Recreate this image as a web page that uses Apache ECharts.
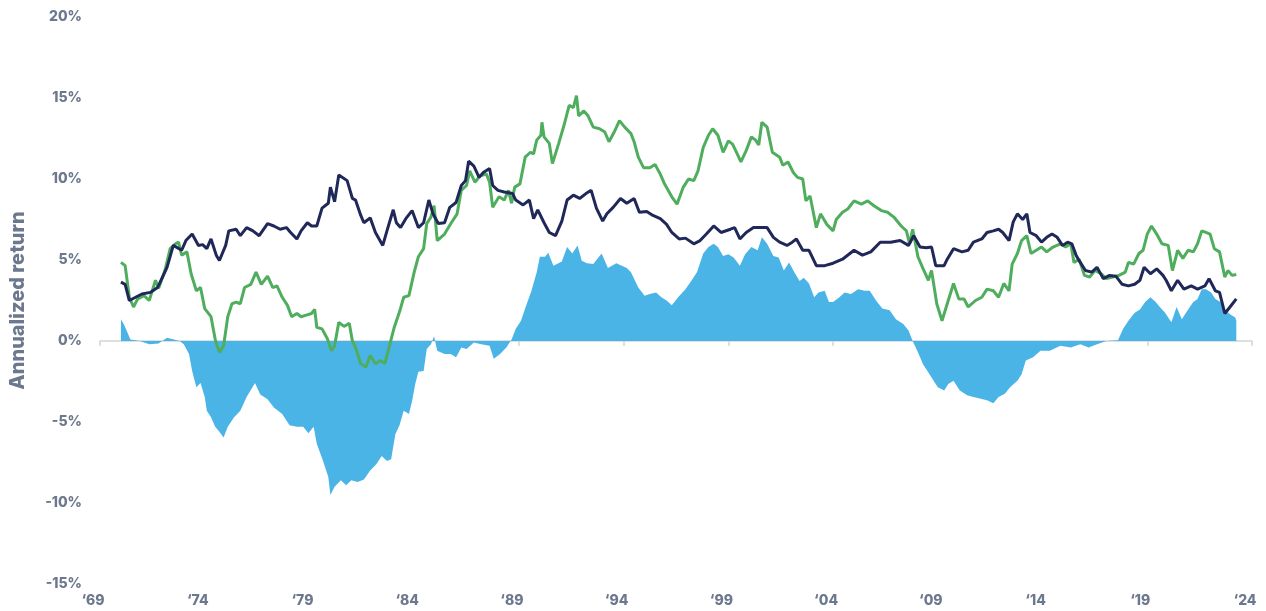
<!DOCTYPE html>
<html><head><meta charset="utf-8">
<script src="https://cdn.jsdelivr.net/npm/echarts@6/dist/echarts.min.js"></script>
<style>html,body{margin:0;padding:0;background:#fff}#c{width:1266px;height:611px}</style>
</head><body><div id="c"></div><script>
const BASE_YEAR = 1969;
const xTickLabels = ['‘69','‘74','‘79','‘84','‘89','‘94','‘99','‘04','‘09','‘14','‘19','‘24'];
const yTickLabels = ['-15%','-10%','-5%','0%','5%','10%','15%','20%'];

const navyYears = [1970.0,1970.2,1970.4,1970.7,1971.0,1971.4,1971.75,1972.2,1972.5,1972.9,1973.1,1973.4,1973.7,1973.9,1974.1,1974.3,1974.55,1974.7,1975.0,1975.15,1975.5,1975.7,1976.0,1976.3,1976.6,1977.0,1977.3,1977.6,1977.9,1978.1,1978.4,1978.6,1978.9,1979.1,1979.35,1979.6,1979.9,1980.0,1980.2,1980.4,1980.8,1981.05,1981.2,1981.45,1981.6,1981.9,1982.15,1982.5,1982.7,1983.0,1983.15,1983.35,1983.6,1983.9,1984.2,1984.45,1984.7,1984.9,1985.15,1985.45,1985.7,1986.0,1986.25,1986.45,1986.6,1986.85,1987.1,1987.3,1987.6,1987.75,1988.0,1988.3,1988.7,1988.85,1989.2,1989.5,1989.7,1989.9,1990.2,1990.45,1990.75,1991.05,1991.3,1991.6,1991.9,1992.2,1992.45,1992.7,1993.0,1993.2,1993.5,1993.85,1994.15,1994.5,1994.75,1995.1,1995.4,1995.75,1996.05,1996.3,1996.65,1996.95,1997.35,1997.65,1997.95,1998.3,1998.65,1999.1,1999.3,1999.55,1999.85,2000.2,2000.5,2000.85,2001.15,2001.45,2001.8,2002.05,2002.25,2002.55,2002.85,2003.2,2003.6,2004.0,2004.45,2005.0,2005.4,2005.8,2006.25,2006.75,2007.2,2007.6,2007.85,2008.15,2008.45,2008.7,2008.9,2009.3,2009.45,2009.75,2010.15,2010.45,2010.7,2011.1,2011.35,2011.65,2011.9,2012.1,2012.4,2012.6,2012.8,2013.05,2013.25,2013.4,2013.7,2013.95,2014.2,2014.45,2014.7,2014.95,2015.2,2015.4,2015.6,2015.8,2016.05,2016.35,2016.6,2016.9,2017.2,2017.5,2017.8,2018.1,2018.4,2018.65,2018.85,2019.15,2019.45,2019.75,2019.9,2020.15,2020.45,2020.75,2021.1,2021.4,2021.75,2021.95,2022.25,2022.45,2022.7,2022.95,2023.25];
const navyValues = [3.63,3.5,2.5,2.7,2.9,3.0,3.3,4.55,5.9,5.6,6.2,6.6,5.9,5.95,5.7,6.3,5.3,4.97,5.9,6.8,6.9,6.5,7.0,6.8,6.5,7.25,7.1,6.9,7.0,6.7,6.3,6.8,7.3,7.1,7.1,8.2,8.5,9.5,8.6,10.25,9.9,8.8,8.7,7.75,7.3,7.6,6.7,5.9,6.8,8.1,7.3,7.0,7.55,8.05,7.0,7.3,8.7,7.85,7.25,7.3,8.25,8.55,9.6,9.9,11.1,10.8,10.1,10.4,10.65,9.6,9.3,9.2,9.1,8.7,8.4,8.7,7.55,8.1,7.3,6.7,6.5,7.4,8.7,9.0,8.8,9.1,9.3,8.2,7.4,7.85,8.25,8.8,8.5,8.8,7.95,8.0,7.75,7.55,7.2,6.7,6.3,6.35,6.0,6.2,6.6,7.1,6.7,6.9,7.0,6.3,6.7,7.0,7.0,7.0,6.4,6.1,5.9,6.1,6.3,5.6,5.6,4.65,4.65,4.8,5.05,5.6,5.3,5.5,6.1,6.1,6.2,5.9,6.5,5.8,5.75,5.8,4.65,4.65,5.05,5.7,5.5,5.6,6.1,6.3,6.7,6.8,6.9,6.7,6.2,7.35,7.85,7.5,7.85,6.7,6.5,6.1,6.4,6.6,6.4,5.9,6.1,6.0,5.3,4.85,4.35,4.25,4.55,3.85,4.05,4.0,3.5,3.4,3.5,3.75,4.55,4.15,4.45,4.05,3.75,3.1,3.75,3.2,3.4,3.2,3.4,3.85,3.1,3.0,1.7,2.1,2.6];

const greenYears = [1970.0,1970.2,1970.4,1970.6,1970.8,1971.1,1971.35,1971.65,1971.8,1972.1,1972.35,1972.6,1972.75,1972.9,1973.15,1973.35,1973.6,1973.8,1974.0,1974.3,1974.5,1974.7,1974.9,1975.1,1975.3,1975.5,1975.7,1975.9,1976.2,1976.45,1976.7,1977.0,1977.25,1977.45,1977.7,1977.95,1978.15,1978.4,1978.6,1978.85,1979.1,1979.25,1979.35,1979.6,1979.85,1980.05,1980.2,1980.4,1980.65,1980.9,1981.05,1981.2,1981.45,1981.7,1981.9,1982.15,1982.4,1982.6,1982.8,1983.05,1983.3,1983.5,1983.75,1984.0,1984.2,1984.45,1984.6,1984.8,1984.95,1985.1,1985.45,1985.75,1986.05,1986.25,1986.5,1986.65,1986.9,1987.15,1987.45,1987.6,1987.75,1988.05,1988.3,1988.5,1988.65,1988.8,1989.05,1989.3,1989.55,1989.7,1989.85,1990.05,1990.1,1990.2,1990.45,1990.6,1990.9,1991.15,1991.4,1991.6,1991.75,1991.85,1992.1,1992.3,1992.55,1992.85,1993.1,1993.3,1993.55,1993.8,1994.05,1994.35,1994.5,1994.7,1994.95,1995.25,1995.5,1995.75,1995.95,1996.3,1996.55,1996.85,1997.1,1997.35,1997.55,1997.8,1998.05,1998.25,1998.5,1998.75,1999.0,1999.2,1999.35,1999.6,1999.85,2000.1,2000.3,2000.45,2000.6,2000.85,2001.1,2001.45,2001.6,2001.85,2002.1,2002.3,2002.55,2002.7,2002.9,2003.2,2003.4,2003.7,2004.0,2004.15,2004.45,2004.7,2005.0,2005.35,2005.65,2005.95,2006.3,2006.6,2006.9,2007.25,2007.5,2007.65,2007.8,2008.05,2008.3,2008.55,2008.7,2008.95,2009.2,2009.45,2009.75,2010.0,2010.25,2010.45,2010.8,2011.1,2011.35,2011.65,2011.9,2012.15,2012.4,2012.55,2012.8,2013.0,2013.25,2013.45,2013.7,2013.95,2014.2,2014.5,2014.85,2015.1,2015.35,2015.5,2015.75,2016.0,2016.25,2016.5,2016.8,2017.05,2017.35,2017.65,2017.95,2018.1,2018.35,2018.6,2018.8,2019.0,2019.2,2019.45,2019.7,2020.0,2020.2,2020.45,2020.7,2020.95,2021.2,2021.4,2021.6,2021.8,2022.0,2022.2,2022.45,2022.7,2022.85,2023.05,2023.25];
const greenValues = [4.85,4.65,2.7,2.1,2.6,2.8,2.5,3.75,3.25,4.35,5.7,6.0,6.1,5.3,5.5,4.15,3.1,3.3,2.0,1.5,0.1,-0.7,-0.3,1.5,2.3,2.4,2.3,3.3,3.5,4.25,3.5,4.0,3.3,3.4,2.7,2.2,1.5,1.7,1.5,1.6,1.7,1.95,0.85,0.75,0.15,-0.6,-0.3,1.15,0.9,1.1,0.0,-0.4,-1.4,-1.6,-0.9,-1.4,-1.2,-1.4,-0.4,0.85,1.8,2.7,2.8,4.25,5.2,5.7,7.25,7.65,8.35,6.2,6.6,7.25,7.85,9.3,9.6,10.5,9.8,10.2,10.3,9.8,8.25,8.9,8.7,9.3,8.5,9.5,9.7,11.35,11.65,11.55,12.4,12.7,13.5,12.6,12.2,10.95,12.2,13.3,14.55,14.4,15.15,13.9,14.2,13.9,13.2,13.1,12.9,12.3,12.9,13.6,13.2,12.8,12.3,11.35,10.7,10.7,10.9,10.3,9.7,8.9,8.45,9.5,10.0,9.9,10.5,11.95,12.7,13.1,12.7,11.65,12.35,12.15,11.75,11.05,11.75,12.6,12.4,12.1,13.5,13.2,11.65,11.35,10.85,11.05,10.4,10.1,10.0,8.65,8.95,7.0,7.85,7.2,6.8,7.5,7.95,8.15,8.65,8.45,8.65,8.35,8.05,7.95,7.65,7.1,6.8,6.0,6.9,5.2,4.45,3.75,4.35,2.3,1.25,2.3,3.55,2.6,2.6,2.1,2.5,2.7,3.2,3.1,2.7,3.55,3.1,4.75,5.4,6.2,6.5,5.4,5.6,5.8,5.5,5.8,6.0,5.8,6.0,4.85,5.05,4.05,3.95,4.35,4.15,3.85,3.95,4.05,4.25,4.85,4.75,5.4,5.6,6.6,7.1,6.6,6.0,5.9,4.35,5.6,5.1,5.6,5.5,6.0,6.8,6.7,6.6,5.7,5.5,3.95,4.35,4.05,4.1];

const gapYears = [1970.0,1970.15,1970.3,1970.45,1970.9,1971.35,1971.8,1972.2,1972.8,1973.0,1973.25,1973.4,1973.6,1973.8,1974.0,1974.1,1974.3,1974.5,1974.7,1974.9,1975.1,1975.4,1975.7,1976.0,1976.4,1976.65,1977.0,1977.3,1977.7,1978.05,1978.4,1978.7,1978.95,1979.2,1979.35,1979.65,1979.9,1980.0,1980.2,1980.5,1980.75,1981.0,1981.3,1981.6,1981.9,1982.2,1982.45,1982.7,1982.9,1983.1,1983.3,1983.5,1983.75,1983.9,1984.05,1984.2,1984.45,1984.6,1984.8,1984.95,1985.1,1985.45,1985.75,1986.0,1986.25,1986.5,1986.85,1987.2,1987.6,1987.8,1988.1,1988.4,1988.65,1988.85,1989.1,1989.35,1989.6,1989.85,1990.0,1990.25,1990.4,1990.65,1991.05,1991.3,1991.55,1991.8,1992.0,1992.25,1992.55,1992.95,1993.25,1993.65,1994.15,1994.35,1994.7,1995.0,1995.25,1995.55,1995.8,1996.05,1996.3,1996.6,1996.95,1997.25,1997.5,1997.8,1998.05,1998.3,1998.5,1998.75,1999.0,1999.25,1999.55,1999.8,2000.1,2000.4,2000.6,2000.85,2001.15,2001.4,2001.65,2001.9,2002.15,2002.4,2002.6,2002.85,2003.1,2003.3,2003.6,2003.8,2004.0,2004.3,2004.55,2004.85,2005.2,2005.5,2005.75,2006.05,2006.35,2006.7,2007.0,2007.35,2007.6,2007.8,2008.05,2008.3,2008.55,2008.8,2009.0,2009.3,2009.5,2009.75,2010.05,2010.4,2010.7,2011.0,2011.35,2011.65,2011.9,2012.2,2012.45,2012.8,2013.0,2013.2,2013.55,2013.9,2014.35,2014.85,2015.35,2015.8,2016.2,2016.6,2017.05,2017.6,2017.85,2018.1,2018.4,2018.65,2018.9,2019.15,2019.4,2019.6,2019.85,2020.15,2020.4,2020.65,2020.95,2021.2,2021.4,2021.6,2021.8,2022.05,2022.25,2022.5,2022.7,2022.95,2023.2,2023.25];
const gapValues = [1.35,1.0,0.55,0.1,0.0,-0.2,-0.15,0.2,0.0,-0.2,-0.8,-1.85,-2.85,-2.6,-3.45,-4.3,-4.7,-5.3,-5.6,-5.95,-5.3,-4.7,-4.3,-3.45,-2.6,-3.3,-3.6,-4.1,-4.5,-5.2,-5.3,-5.3,-5.7,-5.3,-6.35,-7.4,-8.4,-9.5,-9.0,-8.6,-8.9,-8.6,-8.7,-8.55,-8.0,-7.6,-7.1,-7.4,-7.3,-5.75,-5.2,-4.3,-4.5,-3.7,-2.65,-1.9,-1.85,-0.5,-0.2,0.3,-0.6,-0.8,-0.8,-1.0,-0.4,-0.5,-0.1,-0.2,-0.3,-1.1,-0.8,-0.4,0.1,0.75,1.25,2.2,3.1,4.25,5.2,5.2,5.45,4.65,4.9,5.8,5.4,5.9,4.95,4.8,4.75,5.4,4.5,4.8,4.5,4.25,3.3,2.8,2.9,3.0,2.7,2.5,2.2,2.7,3.2,3.75,4.25,5.4,5.8,6.0,5.8,5.25,5.35,5.15,4.65,5.35,5.8,5.6,6.4,6.0,5.25,5.15,4.35,4.85,4.25,3.7,3.9,3.55,2.7,3.0,3.1,2.4,2.4,2.7,3.0,2.9,3.2,3.1,3.1,2.5,2.0,1.9,1.35,1.05,0.65,0.0,-0.7,-1.45,-1.95,-2.45,-2.85,-3.05,-2.65,-2.45,-3.05,-3.35,-3.45,-3.55,-3.65,-3.85,-3.45,-3.25,-2.85,-2.45,-2.05,-1.2,-1.0,-0.6,-0.6,-0.3,-0.4,-0.2,-0.4,-0.2,0.0,0.05,0.75,1.25,1.75,1.95,2.4,2.7,2.4,2.1,1.75,1.15,2.1,1.35,1.95,2.4,2.6,3.2,3.2,3.0,2.6,2.4,1.95,1.65,1.45,1.25];

function pairs(xs, ys) { return xs.map((x, i) => [x - BASE_YEAR, ys[i]]); }

const LABEL_COLOR = '#6c788d';
const FONT = 'Inter, "Noto Sans", sans-serif';

const chart = echarts.init(document.getElementById('c'), null, { renderer: 'canvas' });
chart.setOption({
  animation: false,
  backgroundColor: '#ffffff',
  grid: { left: 99, right: 14, top: 17, bottom: 27, containLabel: false },
  xAxis: [
    {
      type: 'value', min: 0, max: 55, interval: 5, position: 'bottom',
      axisLine: { show: false, onZero: false },
      axisTick: { show: false },
      splitLine: { show: false },
      axisLabel: {
        show: true, margin: 10, color: LABEL_COLOR, fontFamily: FONT, fontWeight: 800, fontSize: 14,
        padding: [0, 14, 0, 0],
        formatter: v => xTickLabels[Math.round(v / 5)] || ''
      }
    },
    {
      type: 'value', min: 0, max: 55, interval: 5, position: 'top',
      axisLine: { show: true, onZero: true, lineStyle: { color: '#d3d5d8', width: 1.5 } },
      axisTick: { show: true, inside: true, length: 5, lineStyle: { color: '#d3d5d8', width: 1.5 } },
      axisLabel: { show: false },
      splitLine: { show: false }
    }
  ],
  yAxis: {
    type: 'value', min: -15, max: 20, interval: 5,
    axisLine: { show: false }, axisTick: { show: false }, splitLine: { show: false },
    axisLabel: {
      margin: 18, color: LABEL_COLOR, fontFamily: FONT, fontWeight: 800, fontSize: 14,
      formatter: v => yTickLabels[Math.round((v + 15) / 5)] || ''
    },
    name: 'Annualized return', nameLocation: 'middle', nameGap: 72,
    nameTextStyle: { color: LABEL_COLOR, fontFamily: FONT, fontWeight: 800, fontSize: 20 }
  },
  series: [
    {
      name: 'Gap', type: 'line', xAxisIndex: 0, data: pairs(gapYears, gapValues),
      showSymbol: false, symbol: 'none', lineStyle: { width: 0 },
      areaStyle: { color: '#4ab4e6', opacity: 1 }, z: 1
    },
    {
      name: 'Green', type: 'line', xAxisIndex: 0, data: pairs(greenYears, greenValues),
      showSymbol: false, symbol: 'none', lineStyle: { width: 3, color: '#4fae5d' }, z: 3
    },
    {
      name: 'Navy', type: 'line', xAxisIndex: 0, data: pairs(navyYears, navyValues),
      showSymbol: false, symbol: 'none', lineStyle: { width: 3, color: '#1f2858' }, z: 4
    }
  ]
});
</script></body></html>
